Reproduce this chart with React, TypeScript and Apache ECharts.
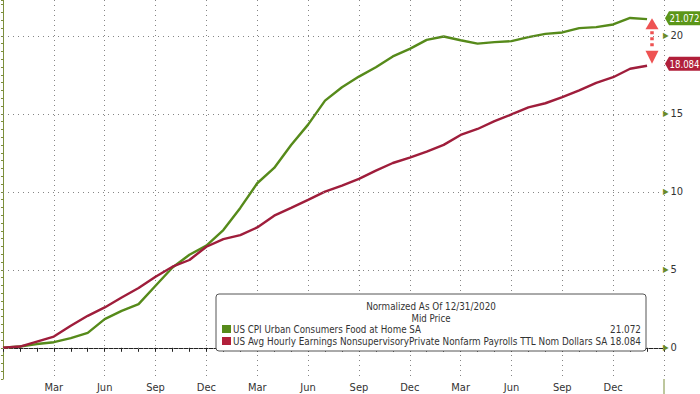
import React, { useEffect, useRef } from "react";
import * as echarts from "echarts";

// Months from Dec 2020 (index 0) to Feb 2024 (index 38)
const months: string[] = [
  "Dec 2020", "Jan 2021", "Feb 2021", "Mar 2021", "Apr 2021", "May 2021", "Jun 2021", "Jul 2021", "Aug 2021", "Sep 2021", "Oct 2021", "Nov 2021",
  "Dec 2021", "Jan 2022", "Feb 2022", "Mar 2022", "Apr 2022", "May 2022", "Jun 2022", "Jul 2022", "Aug 2022", "Sep 2022", "Oct 2022", "Nov 2022",
  "Dec 2022", "Jan 2023", "Feb 2023", "Mar 2023", "Apr 2023", "May 2023", "Jun 2023", "Jul 2023", "Aug 2023", "Sep 2023", "Oct 2023", "Nov 2023",
  "Dec 2023", "Jan 2024", "Feb 2024",
];
const quarterLabels: Record<number, string> = { 3: "Mar", 6: "Jun", 9: "Sep", 0: "Dec" };

const cpiFoodAtHome: number[] = [
  0, 0.08, 0.24, 0.36, 0.62, 0.96, 1.84, 2.37, 2.8, 3.98, 5.15, 5.97,
  6.55, 7.55, 8.97, 10.55, 11.53, 13.0, 14.31, 15.85, 16.71, 17.39, 17.99, 18.68,
  19.17, 19.74, 19.96, 19.72, 19.5, 19.6, 19.66, 19.92, 20.13, 20.22, 20.5, 20.56,
  20.73, 21.15, 21.072,
];
const hourlyEarnings: number[] = [
  0, 0.08, 0.4, 0.72, 1.41, 2.05, 2.59, 3.23, 3.83, 4.56, 5.2, 5.63,
  6.48, 6.97, 7.23, 7.72, 8.47, 8.97, 9.48, 10.01, 10.4, 10.83, 11.36, 11.85,
  12.2, 12.58, 13.01, 13.65, 14.03, 14.53, 14.96, 15.42, 15.68, 16.07, 16.5, 16.99,
  17.35, 17.89, 18.084,
];
const yTickValues: number[] = [0, 5, 10, 15, 20];

const seriesNames: string[] = [
  "US CPI Urban Consumers Food at Home SA",
  "US Avg Hourly Earnings NonsupervisoryPrivate Nonfarm Payrolls TTL Nom Dollars SA",
];
const lastValueLabels: string[] = ["21.072", "18.084"];
const legendTitle = "Normalized As Of 12/31/2020";
const legendSubtitle = "Mid Price";

const GREEN = "#568a1a";
const RED = "#9f1d3b";
const TAG_GREEN = "#5b9618";
const TAG_RED = "#b11f3a";
const AXIS_OLIVE = "#7d8f3c";
const FONT = '"Liberation Sans Narrow", "DejaVu Sans Condensed", "Liberation Sans", Arial, sans-serif';

function fitScale(text: string, size: number, target: number): number {
  const c = document.createElement("canvas").getContext("2d");
  if (!c) return 1;
  c.font = `${size}px ${FONT}`;
  const w = c.measureText(text).width;
  return w > 0 ? target / w : 1;
}

export default function App() {
  const ref = useRef<HTMLDivElement>(null);
  useEffect(() => {
    const el = ref.current!;
    const chart = echarts.init(el, null, { renderer: "svg" });
    const lastIdx = months.length - 1;
    chart.setOption({
      animation: false,
      backgroundColor: "#ffffff",
      grid: { left: 0, right: 36, top: 0, bottom: 15, containLabel: false },
      xAxis: {
        type: "value",
        min: 0,
        max: 39,
        interval: 3,
        axisLine: { show: true, lineStyle: { color: "#222", width: 1 } },
        axisTick: { show: true, length: 4, lineStyle: { color: "#222" } },
        minorTick: { show: true, splitNumber: 3, length: 4, lineStyle: { color: "#222" } },
        axisLabel: {
          color: "#333",
          fontSize: 11,
          fontFamily: FONT,
          margin: 3,
          formatter: (v: number) => (v <= 0 || v > lastIdx ? "" : quarterLabels[v % 12] ?? ""),
        },
        splitLine: { show: true, lineStyle: { color: "#858585", type: [1, 4], width: 1 } },
      },
      yAxis: {
        type: "value",
        position: "right",
        min: -2,
        max: 22.3,
        interval: 0.5,
        axisLine: { show: true, lineStyle: { color: AXIS_OLIVE, width: 1 } },
        axisTick: { show: true, inside: true, length: 2, lineStyle: { color: AXIS_OLIVE } },
        splitLine: { show: false },
        axisLabel: {
          margin: -1,
          fontFamily: FONT,
          formatter: (v: number) => (yTickValues.indexOf(v) >= 0 ? `{a|▶}{b|${v}}` : ""),
          rich: {
            a: { color: "#6a8a24", fontSize: 8, padding: [0, 2, 0, 0] },
            b: { color: "#333", fontSize: 11, fontFamily: FONT },
          },
        },
      },
      series: [
        {
          type: "line",
          data: [],
          silent: true,
          markLine: {
            silent: true,
            symbol: "none",
            label: { show: false },
            lineStyle: { color: "#858585", type: [1, 4], width: 1 },
            data: yTickValues.map((v) => ({ yAxis: v })),
          },
        },
        {
          name: seriesNames[0],
          type: "line",
          showSymbol: false,
          smooth: false,
          lineStyle: { color: GREEN, width: 2.4 },
          itemStyle: { color: GREEN },
          data: cpiFoodAtHome.map((v, i) => [i, v]),
        },
        {
          name: seriesNames[1],
          type: "line",
          showSymbol: false,
          smooth: false,
          lineStyle: { color: RED, width: 2.4 },
          itemStyle: { color: RED },
          data: hourlyEarnings.map((v, i) => [i, v]),
        },
      ],
    });

    const axisX = chart.convertToPixel({ xAxisIndex: 0 }, 39) as number;
    const bottomY = chart.convertToPixel({ yAxisIndex: 0 }, -2) as number;
    const yG = (chart.convertToPixel({ yAxisIndex: 0 }, cpiFoodAtHome[lastIdx]) as number) - 1;
    const yR = (chart.convertToPixel({ yAxisIndex: 0 }, hourlyEarnings[lastIdx]) as number) - 2;

    const tag = (yc: number, color: string, label: string) => [
      {
        type: "polygon",
        shape: {
          points: [
            [axisX + 1, yc],
            [axisX + 5, yc - 7],
            [700, yc - 7],
            [700, yc + 7],
            [axisX + 5, yc + 7],
          ],
        },
        style: { fill: color },
        z: 10,
      },
      {
        type: "text",
        x: 684.5,
        y: yc,
        scaleX: fitScale(label, 11, 30),
        style: { text: label, fill: "#fff", fontSize: 11, fontFamily: FONT, align: "center", verticalAlign: "middle" },
        z: 11,
      },
    ];

    const ax = axisX - 12;
    const arrowColor = "#ee5252";
    const arrows = [
      { type: "polygon", shape: { points: [[ax, yG], [ax - 6.5, yG + 11], [ax + 6.5, yG + 11]] }, style: { fill: arrowColor }, z: 10 },
      { type: "polygon", shape: { points: [[ax, yR], [ax - 6.5, yR - 13], [ax + 6.5, yR - 13]] }, style: { fill: arrowColor }, z: 10 },
      {
        type: "line",
        shape: { x1: ax, y1: yG + 13, x2: ax, y2: yR - 15 },
        style: { stroke: arrowColor, lineWidth: 3.5, lineDash: [3, 3] },
        z: 10,
      },
    ];

    const lx = 216, ly = 294, lw = 430, lh = 57;
    const fs = 10.5;
    const legendEls: any[] = [
      { type: "rect", shape: { x: lx, y: ly, width: lw, height: lh, r: 3 }, style: { fill: "#fff", stroke: "#555", lineWidth: 1 }, z: 20 },
      {
        type: "text", x: 431, y: 306, scaleX: fitScale(legendTitle, fs, 130),
        style: { text: legendTitle, fill: "#333", fontSize: fs, fontFamily: FONT, align: "center", verticalAlign: "middle" }, z: 21,
      },
      {
        type: "text", x: 431, y: 318, scaleX: fitScale(legendSubtitle, fs, 39),
        style: { text: legendSubtitle, fill: "#333", fontSize: fs, fontFamily: FONT, align: "center", verticalAlign: "middle" }, z: 21,
      },
    ];
    const rowY = [329, 341];
    const colors = [GREEN, TAG_RED];
    const nameWidths = [188, 375];
    seriesNames.forEach((name, k) => {
      legendEls.push(
        { type: "rect", shape: { x: 222, y: rowY[k] - 4, width: 9, height: 8 }, style: { fill: colors[k] }, z: 21 },
        {
          type: "text", x: 233, y: rowY[k], scaleX: fitScale(name, fs, nameWidths[k]),
          style: { text: name, fill: "#333", fontSize: fs, fontFamily: FONT, align: "left", verticalAlign: "middle" }, z: 21,
        },
        {
          type: "text", x: 641, y: rowY[k], scaleX: fitScale(lastValueLabels[k], fs, 31),
          style: { text: lastValueLabels[k], fill: "#333", fontSize: fs, fontFamily: FONT, align: "right", verticalAlign: "middle" }, z: 21,
        },
      );
    });

    chart.setOption({
      graphic: [
        ...legendEls,
        ...tag(yG, TAG_GREEN, lastValueLabels[0]),
        ...tag(yR, TAG_RED, lastValueLabels[1]),
        ...arrows,
        {
          type: "line",
          shape: { x1: axisX, y1: bottomY, x2: axisX, y2: 394 },
          style: { stroke: AXIS_OLIVE, lineWidth: 1 },
          z: 5,
        },
      ],
    });

    return () => chart.dispose();
  }, []);
  return (
    <div
      ref={ref}
      style={{ position: "fixed", left: 0, top: 0, width: 700, height: 394, background: "#fff" }}
    />
  );
}
